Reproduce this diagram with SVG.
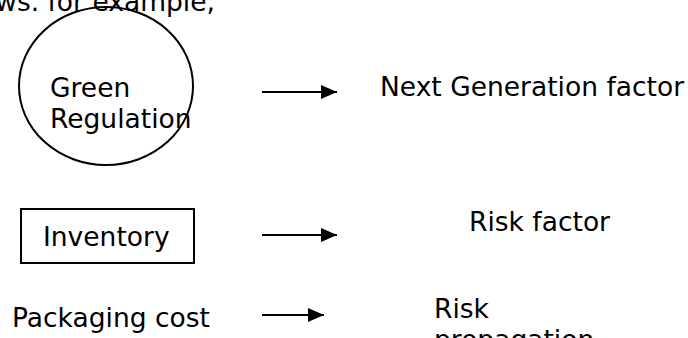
<svg xmlns="http://www.w3.org/2000/svg" width="688" height="338" viewBox="0 0 688 338">
<style>
text{font-family:"DejaVu Sans","Verdana",sans-serif;font-size:26.5px;fill:#000}
.shape{fill:none;stroke:#000;stroke-width:2}
.conn line{stroke:#000;stroke-width:2}
</style>
<defs>
<marker id="ah" markerWidth="16" markerHeight="14" refX="16" refY="7" orient="auto" markerUnits="userSpaceOnUse">
<path d="M0,0 L16,7 L0,14 Z" fill="#000"/>
</marker>
</defs>
<rect width="688" height="338" fill="#fff"/>
<text x="-21" y="11">ows. for example,</text>
<g id="green-regulation">
<ellipse class="shape" cx="106" cy="86" rx="87" ry="79"/>
<text x="50" y="97">Green</text>
<text x="50" y="128">Regulation</text>
</g>
<g id="inventory">
<rect class="shape" x="21" y="209" width="173" height="54"/>
<text x="43" y="246">Inventory</text>
</g>
<g id="packaging-cost">
<text x="12" y="327">Packaging cost</text>
</g>
<g id="next-generation">
<text x="380" y="96">Next Generation factor</text>
</g>
<g id="risk-factor">
<text x="469" y="231">Risk factor</text>
</g>
<g id="risk-propagation">
<text x="434" y="318">Risk</text>
<text x="434" y="349">propagation</text>
</g>
<g class="conn" id="connectors">
<line x1="262" y1="92" x2="337" y2="92" marker-end="url(#ah)"/>
<line x1="262" y1="235" x2="337" y2="235" marker-end="url(#ah)"/>
<line x1="262" y1="315" x2="324" y2="315" marker-end="url(#ah)"/>
</g>
</svg>
